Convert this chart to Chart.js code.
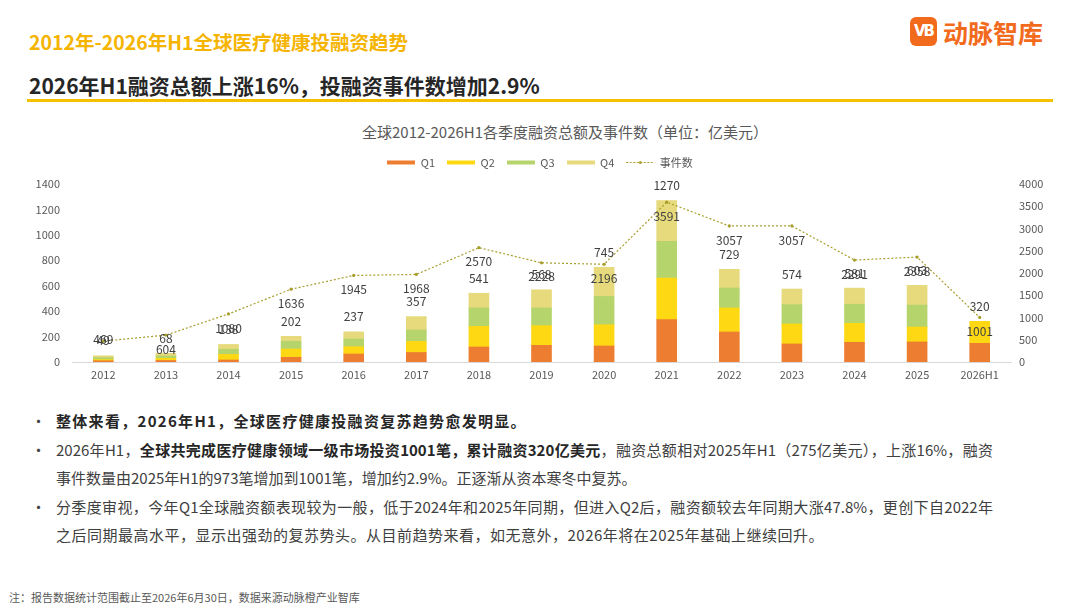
<!DOCTYPE html>
<html>
<head>
<meta charset="utf-8">
<script src="https://cdn.jsdelivr.net/npm/chart.js@4.4.1/dist/chart.umd.min.js"></script>
<style>
  body { margin: 0; width: 1080px; height: 608px; background: #fff; position: relative; overflow: hidden;
         font-family: "Noto Sans CJK SC", "Noto Sans", sans-serif; }
  .abs { position: absolute; white-space: nowrap; }
  #title { left: 29px; top: 28px; font-size: 19.5px; line-height: 28px; font-weight: bold; color: #F5B400; }
  #subtitle { left: 29px; top: 70px; font-size: 21px; line-height: 30px; font-weight: bold; color: #262626; }
  #rule { left: 27px; top: 99px; width: 1026px; height: 3px; background: #F5C000; }
  #logoBox { left: 910px; top: 17px; width: 27px; height: 29px; border-radius: 6px; background: #F26B1D;
             color: #fff; font: bold 15px/29px "DejaVu Sans", sans-serif; text-align: center; letter-spacing: -2px; }
  #logoText { left: 943px; top: 16px; font-size: 25px; line-height: 32px; font-weight: bold; color: #F26B1D; }
  #chartTitle { left: 362px; top: 122px; width: 400px; text-align: center; font-size: 15px; line-height: 20px; color: #595959; }
  #wrap { left: 0; top: 130px; width: 1080px; height: 270px; }
  .line { left: 56px; font-size: 15px; line-height: 28px; color: #404040; }
  .just { width: 937px; text-align: justify; text-align-last: justify; }
  .dot { left: 31px; font-size: 15px; line-height: 28px; color: #404040; }
  b { color: #262626; }
  #note { left: 9px; top: 589px; font-size: 11px; line-height: 16px; color: #595959; }
</style>
</head>
<body>
<div class="abs" id="title">2012年-2026年H1全球医疗健康投融资趋势</div>
<div class="abs" id="subtitle">2026年H1融资总额上涨16%，投融资事件数增加2.9%</div>
<div class="abs" id="rule"></div>
<div class="abs" id="logoBox">VB</div>
<div class="abs" id="logoText">动脉智库</div>
<div class="abs" id="chartTitle">全球2012-2026H1各季度融资总额及事件数（单位：亿美元）</div>
<div class="abs" id="wrap"><canvas id="chart" width="1080" height="270"></canvas></div>

<div class="abs dot" style="top:407px">•</div>
<div class="abs line" style="top:407px; letter-spacing:1.3px"><b>整体来看，2026年H1，全球医疗健康投融资复苏趋势愈发明显。</b></div>
<div class="abs dot" style="top:436px">•</div>
<div class="abs line just" style="top:436px">2026年H1，<b>全球共完成医疗健康领域一级市场投资1001笔，累计融资320亿美元</b>，融资总额相对2025年H1（275亿美元），上涨16%，融资</div>
<div class="abs line" style="top:464px">事件数量由2025年H1的973笔增加到1001笔，增加约2.9%。正逐渐从资本寒冬中复苏。</div>
<div class="abs dot" style="top:493px">•</div>
<div class="abs line just" style="top:493px">分季度审视，今年Q1全球融资额表现较为一般，低于2024年和2025年同期，但进入Q2后，融资额较去年同期大涨47.8%，更创下自2022年</div>
<div class="abs line" style="top:521px; letter-spacing:0.5px">之后同期最高水平，显示出强劲的复苏势头。从目前趋势来看，如无意外，2026年将在2025年基础上继续回升。</div>
<div class="abs" id="note">注：报告数据统计范围截止至2026年6月30日，数据来源动脉橙产业智库</div>

<script>
// Categories and series (亿美元 per quarter, events per year)
const years = ['2012', '2013', '2014', '2015', '2016', '2017', '2018', '2019', '2020', '2021', '2022', '2023', '2024', '2025', '2026H1'];
const q1 = [10, 12, 16, 37, 63, 75, 118, 131, 126, 333, 236, 142, 155, 158, 147];
const q2 = [9, 17, 44, 65, 57, 87, 162, 155, 167, 328, 189, 157, 149, 117, 173];
const q3 = [16, 19, 40, 61, 61, 90, 145, 139, 223, 288, 157, 152, 150, 173, null];
const q4 = [14, 20, 38, 39, 56, 105, 116, 143, 229, 321, 147, 123, 127, 155, null];
const events = [469, 604, 1080, 1636, 1945, 1968, 2570, 2228, 2196, 3591, 3057, 3057, 2291, 2358, 1001];

const FONT = '"Noto Sans CJK SC", "Noto Sans", sans-serif';
const C1 = '#ED7D31', C2 = '#FFD814', C3 = '#B6D46C', C4 = '#E6DA7C', LC = '#A89E2C';

Chart.defaults.font.family = FONT;
Chart.defaults.color = '#595959';

// Small legend swatches: wide thin bars and a dotted line with a dot
function swatch(color, dotted) {
    const c = document.createElement('canvas');
    c.width = 28;
    c.height = 5;
    const g = c.getContext('2d');
    if (dotted) {
        g.strokeStyle = color;
        g.lineWidth = 1;
        g.setLineDash([2, 1.5]);
        g.beginPath();
        g.moveTo(0, 2.5);
        g.lineTo(28, 2.5);
        g.stroke();
        g.fillStyle = color;
        g.beginPath();
        g.arc(14, 2.5, 1.5, 0, Math.PI * 2);
        g.fill();
    } else {
        g.fillStyle = color;
        g.fillRect(0, 0.5, 28, 4);
    }
    return c;
}
const swatches = [swatch(C1), swatch(C2), swatch(C3), swatch(C4), swatch(LC, true)];

// Totals above the bars, event counts under the line points
const valueLabels = {
    id: 'valueLabels',
    afterDatasetsDraw(chart) {
        const { ctx, scales: { x, y, y1 } } = chart;
        ctx.save();
        ctx.font = '12px ' + FONT;
        ctx.fillStyle = '#404040';
        ctx.textAlign = 'center';
        ctx.textBaseline = 'middle';
        years.forEach((yr, i) => {
            const total = q1[i] + q2[i] + (q3[i] || 0) + (q4[i] || 0);
            const px = x.getPixelForValue(i);
            ctx.fillText(String(total), px, y.getPixelForValue(total) - 15);
            const dy = i === 0 ? -2 : 14;
            ctx.fillText(String(events[i]), px, y1.getPixelForValue(events[i]) + dy);
        });
        ctx.restore();
    }
};

const bar = (label, data, color) => ({
    label: label, data: data, backgroundColor: color, stack: 's', yAxisID: 'y', barThickness: 20
});

const plain = (v) => String(v);

new Chart(document.getElementById('chart').getContext('2d'), {
    type: 'bar',
    data: {
        labels: years,
        datasets: [
            bar('Q1', q1, C1),
            bar('Q2', q2, C2),
            bar('Q3', q3, C3),
            bar('Q4', q4, C4),
            {
                type: 'line', label: '事件数', data: events, yAxisID: 'y1', order: -1,
                borderColor: LC, borderWidth: 1.2, borderDash: [2, 2], tension: 0, fill: false,
                pointRadius: 1.6, pointBackgroundColor: LC, pointBorderWidth: 0
            }
        ]
    },
    options: {
        responsive: false,
        animation: false,
        layout: { padding: { top: 15, left: 0, right: 0, bottom: 0 } },
        plugins: {
            legend: {
                position: 'top',
                labels: {
                    usePointStyle: true,
                    pointStyleWidth: 28,
                    boxHeight: 5,
                    padding: 12,
                    color: '#595959',
                    font: { size: 11 },
                    generateLabels: (chart) => Chart.defaults.plugins.legend.labels.generateLabels(chart)
                        .sort((a, b) => a.datasetIndex - b.datasetIndex)
                        .map((it) => Object.assign(it, { pointStyle: swatches[it.datasetIndex] }))
                }
            },
            // empty spacer between legend and plot
            subtitle: { display: true, text: '', weight: 500, padding: 0, font: { size: 5 } },
            tooltip: { enabled: false }
        },
        scales: {
            x: {
                stacked: true,
                grid: { display: false, drawTicks: false },
                border: { display: true, color: '#D9D9D9' },
                ticks: { padding: 6, font: { size: 11 }, color: '#595959' },
                afterFit: (s) => { s.height = 38; }
            },
            y: {
                stacked: true, position: 'left', min: 0, max: 1400,
                grid: { display: false, drawTicks: false },
                border: { display: false },
                ticks: { stepSize: 200, padding: 12, font: { size: 11 }, color: '#595959', callback: plain },
                afterFit: (s) => { s.width = 72; }
            },
            y1: {
                position: 'right', min: 0, max: 4000,
                grid: { display: false, drawTicks: false },
                border: { display: false },
                ticks: { stepSize: 500, padding: 8, font: { size: 11 }, color: '#595959', callback: plain },
                afterFit: (s) => { s.width = 69; }
            }
        }
    },
    plugins: [valueLabels]
});
</script>
</body>
</html>
